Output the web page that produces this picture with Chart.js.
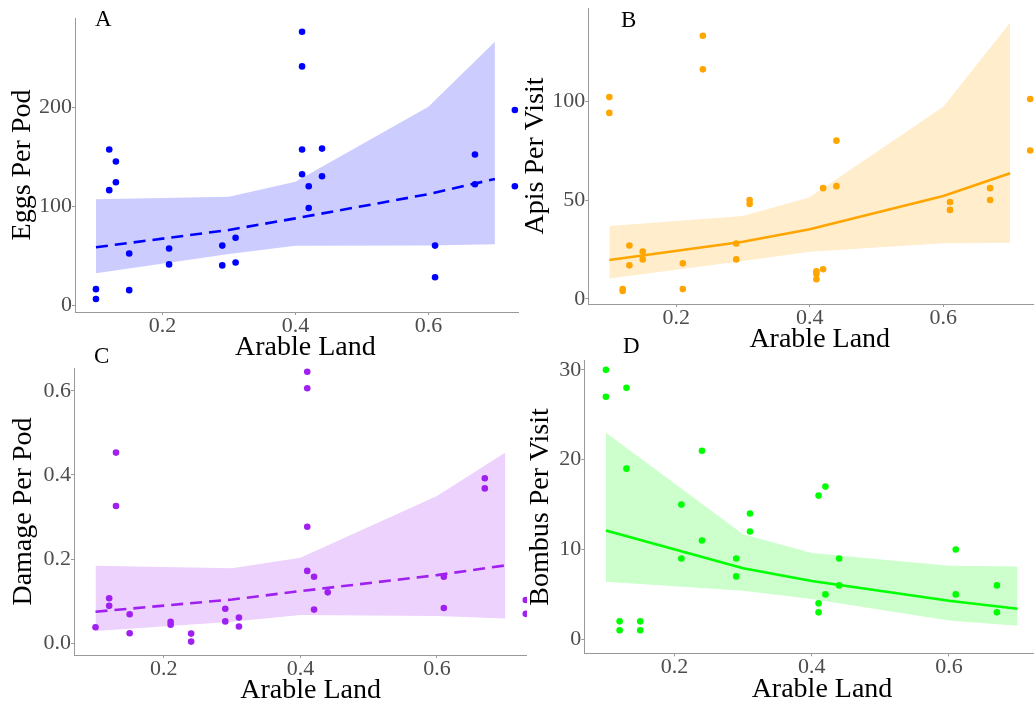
<!DOCTYPE html>
<html><head><meta charset="utf-8">
<script src="https://cdn.jsdelivr.net/npm/chart.js@4.4.1/dist/chart.umd.min.js"></script>
<style>
html,body{margin:0;padding:0;background:#fff;width:1034px;height:706px;overflow:hidden;}
.box{position:absolute;overflow:hidden;}
.box canvas{position:absolute;}
.lab{position:absolute;font-family:'Liberation Serif','Times New Roman',serif;font-size:23px;line-height:23px;color:#000;z-index:5;}
</style></head><body>
<div class="box" style="left:0;top:0;width:519px;height:372px"><canvas id="cA" width="1100" height="720" style="left:0;top:0"></canvas></div>
<div class="box" style="left:519px;top:0;width:515px;height:372px"><canvas id="cB" width="1100" height="720" style="left:-519px;top:0"></canvas></div>
<div class="box" style="left:0;top:340px;width:527px;height:366px"><canvas id="cC" width="1100" height="720" style="left:0;top:-340px"></canvas></div>
<div class="box" style="left:527px;top:336px;width:507px;height:370px"><canvas id="cD" width="1100" height="720" style="left:-527px;top:-336px"></canvas></div>
<div class="lab" style="left:95px;top:7px">A</div>
<div class="lab" style="left:621px;top:8px">B</div>
<div class="lab" style="left:94px;top:344px">C</div>
<div class="lab" style="left:623px;top:334px">D</div>
<script>
// ---------- data ----------
const fitX = [0.1, 0.3, 0.4, 0.6, 0.7];
const xTickVals = [0.2, 0.4, 0.6];
const xTickLabels = ['0.2', '0.4', '0.6'];

// Panel A: Eggs Per Pod
const eggsX = [0.1,0.1,0.12,0.12,0.13,0.13,0.15,0.15,0.21,0.21,0.29,0.29,0.31,0.31,0.41,0.41,0.41,0.41,0.42,0.42,0.44,0.44,0.61,0.61,0.67,0.67,0.73,0.73];
const eggsY = [16,6,157,116,145,124,52,15,57,41,60,40,68,43,276,241,157,132,120,98,158,130,60,28,152,122,197,120];
const eggsFit = [58.3, 75.8, 87.5, 112, 127.3];
const eggsUpper = [106.7, 109.4, 124.5, 200.3, 266];
const eggsLower = [32, 51.5, 59.9, 60, 61.3];
const eggsTicks = [0, 100, 200];
const eggsTickLabels = ['0', '100', '200'];

// Panel B: Apis Per Visit
const apisX = [0.1,0.1,0.12,0.12,0.13,0.13,0.15,0.15,0.21,0.21,0.24,0.24,0.29,0.29,0.31,0.31,0.41,0.41,0.41,0.42,0.42,0.44,0.44,0.61,0.61,0.67,0.67,0.73,0.73];
const apisY = [102,94,5,4,27,17,24,20,18,5,133,116,28,20,50,48,14,12.6,10,15,56,80,57,49,45,56,50,101,75];
const apisFit = [19.7, 28.9, 35.2, 52, 63.5];
const apisUpper = [36.9, 41.9, 51.4, 97.1, 139.6];
const apisLower = [10.4, 19.2, 23.9, 28.1, 28.4];
const apisTicks = [0, 50, 100];
const apisTickLabels = ['0', '50', '100'];

// Panel C: Damage Per Pod
const damX = [0.1,0.12,0.12,0.13,0.13,0.15,0.15,0.21,0.21,0.24,0.24,0.29,0.29,0.31,0.31,0.41,0.41,0.41,0.41,0.42,0.42,0.44,0.61,0.61,0.67,0.67,0.73,0.73];
const damY = [0.038,0.107,0.089,0.453,0.326,0.069,0.024,0.051,0.044,0.023,0.004,0.082,0.052,0.061,0.040,0.645,0.606,0.277,0.172,0.158,0.080,0.121,0.158,0.084,0.392,0.368,0.103,0.070];
const damFit = [0.075, 0.104, 0.124, 0.162, 0.185];
const damUpper = [0.184, 0.178, 0.203, 0.350, 0.453];
const damLower = [0.029, 0.051, 0.067, 0.065, 0.059];
const damTicks = [0, 0.2, 0.4, 0.6];
const damTickLabels = ['0.0', '0.2', '0.4', '0.6'];

// Panel D: Bombus Per Visit
const bomX = [0.1,0.1,0.12,0.12,0.13,0.13,0.15,0.15,0.21,0.21,0.24,0.24,0.29,0.29,0.31,0.31,0.41,0.41,0.41,0.42,0.42,0.44,0.44,0.61,0.61,0.67,0.67];
const bomY = [30,27,2,1,28,19,2,1,15,9,21,11,9,7,14,12,16,4,3,17,5,9,6,10,5,6,3];
const bomFit = [12.1, 7.9, 6.5, 4.3, 3.4];
const bomUpper = [23.0, 11.7, 9.6, 8.2, 8.1];
const bomLower = [6.4, 5.4, 4.5, 2.1, 1.5];
const bomTicks = [0, 10, 20, 30];
const bomTickLabels = ['0', '10', '20', '30'];

// ---------- drawing ----------
const SERIF = "'Liberation Serif','Times New Roman',serif";
const AXIS = '#999999';
const CW = 1100, CH = 720;

function panel(id, p) {
  const pts = p.px.map((x, i) => ({x: x, y: p.py[i]}));
  const line = arr => fitX.map((x, i) => ({x: x, y: arr[i]}));
  new Chart(document.getElementById(id), {
    data: {
      datasets: [
        {type: 'scatter', data: pts, backgroundColor: p.color, borderWidth: 0, pointRadius: 3.3, pointHoverRadius: 3.3, order: 0},
        {type: 'line', data: line(p.fit), borderColor: p.color, borderWidth: 2.6, borderDash: p.dashed ? [12, 7] : [], pointRadius: 0, fill: false, tension: 0, order: 1},
        {type: 'line', data: line(p.upper), borderColor: 'rgba(0,0,0,0)', borderWidth: 0, pointRadius: 0, backgroundColor: p.ribbon, fill: '+1', tension: 0, order: 2},
        {type: 'line', data: line(p.lower), borderColor: 'rgba(0,0,0,0)', borderWidth: 0, pointRadius: 0, fill: false, tension: 0, order: 3}
      ]
    },
    options: {
      responsive: false, animation: false, devicePixelRatio: 1,
      layout: {padding: {left: p.L - p.yW, right: CW - p.R, top: p.T, bottom: CH - p.B - 50}},
      plugins: {legend: {display: false}, tooltip: {enabled: false}},
      scales: {
        x: {
          type: 'linear', min: 0.0685, max: 0.7615,
          afterBuildTicks: s => { s.ticks = xTickVals.map(v => ({value: v})); },
          afterFit: s => { s.height = 50; s.paddingLeft = 0; s.paddingRight = 0; },
          ticks: {callback: (v, i) => xTickLabels[i], font: {family: SERIF, size: 22, lineHeight: 1}, color: '#4d4d4d', padding: 0, maxRotation: 0, autoSkip: false},
          grid: {drawOnChartArea: false, drawTicks: true, tickLength: 3, color: AXIS},
          border: {color: AXIS, width: 1},
          title: {display: true, text: 'Arable Land', font: {family: SERIF, size: 28, lineHeight: 1}, color: '#000', padding: 0}
        },
        y: {
          type: 'linear', min: p.yMin, max: p.yMax,
          afterBuildTicks: s => { s.ticks = p.yTicks.map(v => ({value: v})); },
          afterFit: s => { s.width = p.yW; s.paddingTop = 0; s.paddingBottom = 0; },
          ticks: {callback: (v, i) => p.yLabels[i], font: {family: SERIF, size: 22, lineHeight: 1}, color: '#4d4d4d', padding: 0, autoSkip: false},
          grid: {drawOnChartArea: false, drawTicks: true, tickLength: 3, color: AXIS},
          border: {color: AXIS, width: 1},
          title: {display: true, text: p.yTitle, font: {family: SERIF, size: 28, lineHeight: 1}, color: '#000', padding: 0}
        }
      }
    }
  });
}

panel('cA', {px: eggsX, py: eggsY, fit: eggsFit, upper: eggsUpper, lower: eggsLower, yTicks: eggsTicks, yLabels: eggsTickLabels,
  yTitle: 'Eggs Per Pod', color: '#0000FF', ribbon: 'rgb(204,204,255)', dashed: true,
  L: 75, R: 535.8, T: 18, B: 312, yW: 66.8, yMin: -7.07, yMax: 289.9});
panel('cB', {px: apisX, py: apisY, fit: apisFit, upper: apisUpper, lower: apisLower, yTicks: apisTicks, yLabels: apisTickLabels,
  yTitle: 'Apis Per Visit', color: '#FFA500', ribbon: 'rgb(255,237,204)', dashed: false,
  L: 588.3, R: 1051.2, T: 8, B: 304, yW: 67, yMin: -2.53, yMax: 147.0});
panel('cC', {px: damX, py: damY, fit: damFit, upper: damUpper, lower: damLower, yTicks: damTicks, yLabels: damTickLabels,
  yTitle: 'Damage Per Pod', color: '#A020F0', ribbon: 'rgb(236,210,252)', dashed: true,
  L: 74, R: 547.3, T: 368, B: 655, yW: 64, yMin: -0.0278, yMax: 0.654});
panel('cD', {px: bomX, py: bomY, fit: bomFit, upper: bomUpper, lower: bomLower, yTicks: bomTicks, yLabels: bomTickLabels,
  yTitle: 'Bombus Per Visit', color: '#00FF00', ribbon: 'rgb(204,255,204)', dashed: false,
  L: 584.3, R: 1059.7, T: 360.7, B: 653.3, yW: 57.6, yMin: -1.56, yMax: 31.02});
</script>
</body></html>
